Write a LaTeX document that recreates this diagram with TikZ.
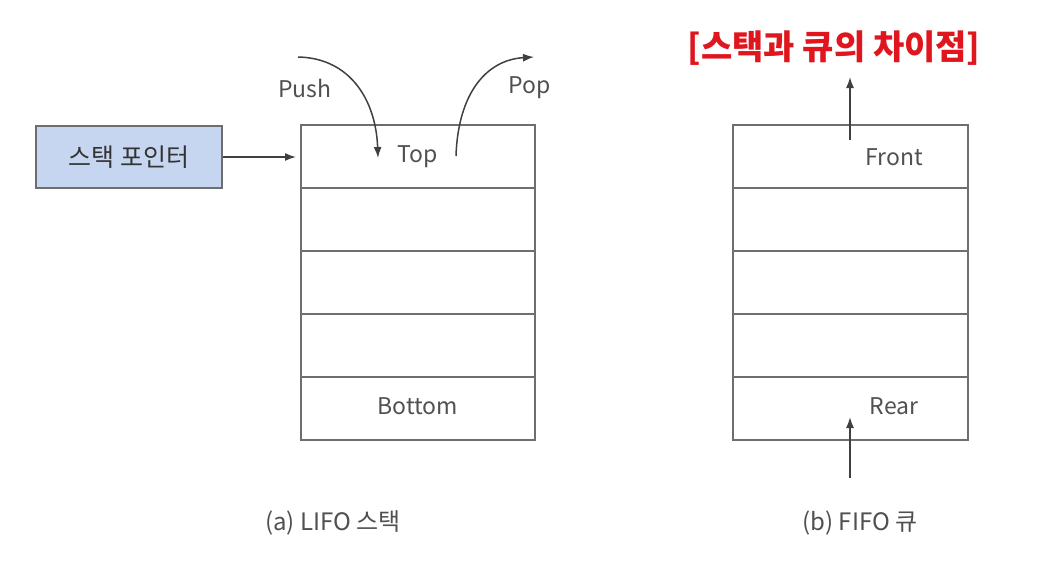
\documentclass[tikz,border=0pt]{standalone}
\usepackage{fontspec}
\setmainfont{Noto Sans CJK KR}
\usetikzlibrary{arrows.meta}
\definecolor{linegray}{HTML}{6E6E6E}
\definecolor{textgray}{HTML}{505050}
\definecolor{spfill}{HTML}{C6D6F0}
\definecolor{titlered}{HTML}{E0161E}
\begin{document}
\begin{tikzpicture}[x=1pt,y=-1pt,
  cell/.style={draw=linegray,line width=2pt,minimum width=234pt,minimum height=63pt,inner sep=0pt},
  lbl/.style={text=textgray,font=\fontsize{23}{26}\selectfont,inner sep=0pt},
  captext/.style={text=textgray,font=\fontsize{24}{27}\selectfont,inner sep=0pt},
  arr/.style={draw=black!75,line width=1.5pt,-{Latex[length=11pt,width=8pt]}},
  spbox/.style={draw=linegray,line width=2pt,fill=spfill,minimum width=186pt,minimum height=62pt,inner sep=0pt,text=black!80,font=\fontsize{25}{28}\selectfont}]
\path[use as bounding box] (0,0) rectangle (1062,578);
% stack
\node[cell] (s1) at (418,156) {};
\node[cell] (s2) at (418,219) {};
\node[cell] (s3) at (418,282) {};
\node[cell] (s4) at (418,345) {};
\node[cell] (s5) at (418,408) {};
\node[lbl] (top) at (418,157) {Top};
\node[lbl] (bottom) at (418,406) {Bottom};
% queue
\node[cell,minimum width=235pt] (q1) at (850.5,156) {};
\node[cell,minimum width=235pt] (q2) at (850.5,219) {};
\node[cell,minimum width=235pt] (q3) at (850.5,282) {};
\node[cell,minimum width=235pt] (q4) at (850.5,345) {};
\node[cell,minimum width=235pt] (q5) at (850.5,408) {};
\node[lbl] (front) at (894,157) {Front};
\node[lbl] (rear) at (894,406) {Rear};
% stack pointer
\node[spbox] (sp) at (129,157) {스택 포인터};
\draw[arr,shorten >=4pt] (sp.east) -- (sp.east -| s1.west);
% push / pop
\node[lbl] (push) at (305,88) {Push};
\node[lbl] (pop) at (530,88) {Pop};
\coordinate (pushs) at (298,57);
\coordinate (pushe) at (378,158);
\draw[arr] (pushs) .. controls (350,58) and (376,100) .. (pushe);
\coordinate (pops) at (456,156);
\coordinate (pope) at (534,57);
\draw[arr] (pops) .. controls (458,95) and (485,60) .. (pope);
% queue arrows
\coordinate (fs) at (850,140);
\coordinate (fe) at (850,77);
\draw[arr] (fs) -- (fe);
\coordinate (rs) at (850,478);
\coordinate (re) at (850,417);
\draw[arr] (rs) -- (re);
% title and captions
\node[text=titlered,font=\fontsize{34}{38}\selectfont\bfseries,inner sep=0pt] (title) at (834,48) {[스택과 큐의 차이점]};
\node[captext] (capa) at (333,523) {(a) LIFO 스택};
\node[captext] (capb) at (860,523) {(b) FIFO 큐};
\end{tikzpicture}
\end{document}
